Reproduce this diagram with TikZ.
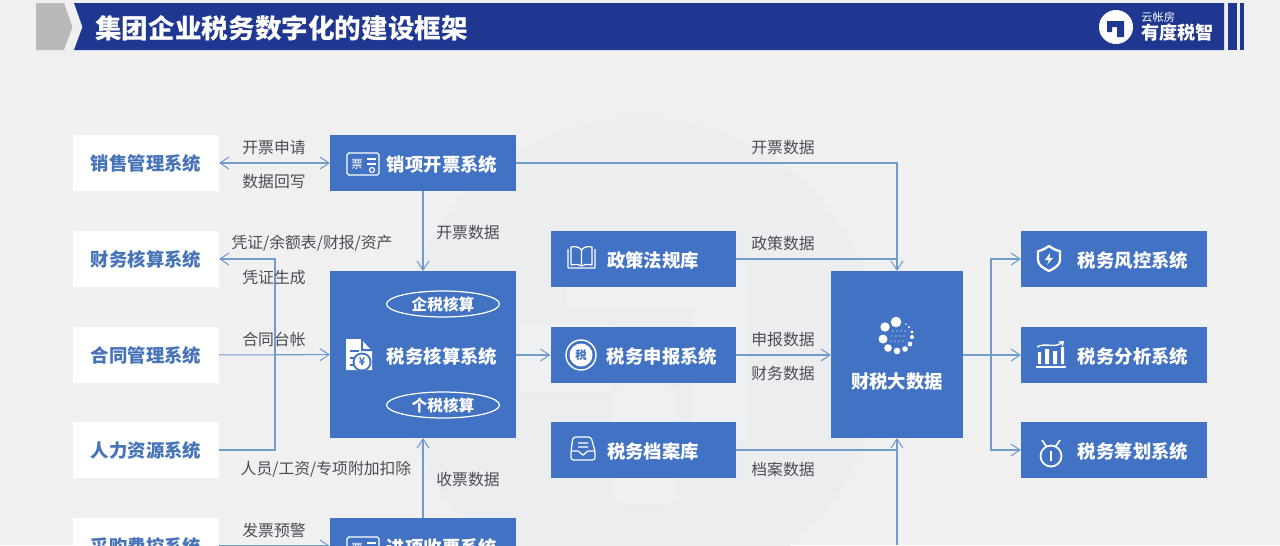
\documentclass[tikz,border=0pt]{standalone}
\usepackage{fontspec}
\setmainfont{Noto Sans CJK SC}
\usepackage{xcolor}
\usetikzlibrary{arrows.meta,positioning,shapes.geometric}
\definecolor{pagebg}{HTML}{F0F0F1}
\definecolor{discbg}{HTML}{ECEDEF}
\definecolor{markbg}{HTML}{EFF0F1}
\definecolor{barblue}{HTML}{1F3790}
\definecolor{boxblue}{HTML}{4172C4}
\definecolor{linkblue}{HTML}{6F9CCB}
\definecolor{namblue}{HTML}{4773B8}
\definecolor{labgray}{HTML}{4B4C55}
\newcommand{\lowname}[1]{\raisebox{-0.9pt}{#1}}
\tikzset{
  whitebox/.style={fill=white,minimum width=2.92cm,minimum height=1.12cm,inner sep=0pt,outer sep=0pt,text=namblue,font=\fontsize{10.45}{12}\selectfont\bfseries},
  bluebox/.style={fill=boxblue,minimum width=3.72cm,minimum height=1.12cm,inner sep=0pt,outer sep=0pt},
  boxtext/.style={text=white,inner sep=0pt,yshift=-0.5pt,font=\fontsize{10.45}{12}\selectfont\bfseries},
  linklab/.style={text=labgray,inner sep=0pt,yshift=-0.2pt,font=\fontsize{9}{10}\selectfont},
  tip/.tip={Straight Barb[length=5.2pt,width=6.8pt,line width=0.6pt]},
  link/.style={draw=linkblue,line width=0.6pt,-tip},
  plainlink/.style={draw=linkblue,line width=0.6pt},
  iconline/.style={draw=white,line width=0.7pt},
  ovaltag/.style={iconline,ellipse,minimum width=2.26cm,minimum height=0.52cm,inner sep=0pt,text=white,font=\fontsize{8.9}{10}\selectfont\bfseries},
}
\begin{document}
\begin{tikzpicture}[x=0.02cm,y=-0.02cm]
\useasboundingbox (0,0) rectangle (1280,545);
\clip (0,0) rectangle (1280,545);
\fill[pagebg] (0,0) rectangle (1280,545);
\fill[discbg] (640,358) circle (240);
\fill[markbg] (567,262) -- (747,262) -- (747,440) -- (693,440) -- (693,308) -- (567,308) -- cycle;
\fill[markbg,rounded corners=8pt] (612,385) -- (678,385) -- (678,505) -- (612,505) -- cycle;
\fill[markbg] (520,325) rectangle (612,393);
\fill[gray!55] (36,3) -- (64,3) -- (72.5,27) -- (64,50) -- (36,50) -- cycle;
\fill[barblue] (74,3) -- (1224,3) -- (1224,50) -- (74,50) -- (82.5,27) -- cycle;
\fill[barblue] (1228,3) rectangle (1237,50);
\fill[barblue] (1240,3) rectangle (1244,50);
\node[text=white,inner sep=0pt,anchor=west,font=\fontsize{15.15}{18}\selectfont\bfseries] (title) at (95,28) {集团企业税务数字化的建设框架};
\fill[white] (1116,27) circle (17);
\fill[barblue] (1107,21) -- (1124,21) -- (1124,37) -- (1117,37) -- (1117,27) -- (1112,27) -- (1112,32) -- (1107,32) -- cycle;
\node[text=white,inner sep=0pt,anchor=west,font=\fontsize{6.4}{7}\selectfont] (yunzhang) at (1141,17) {云帐房};
\node[text=white,inner sep=0pt,anchor=west,font=\fontsize{10.3}{11}\selectfont\bfseries] (youdu) at (1141,33) {有度税智};

\node[whitebox] (xiaoshou) at (146,163) {\lowname{销售管理系统}};
\node[whitebox] (caiwu) at (146,259) {\lowname{财务核算系统}};
\node[whitebox] (hetong) at (146,355) {\lowname{合同管理系统}};
\node[whitebox] (renli) at (146,450) {\lowname{人力资源系统}};
\node[whitebox] (caigou) at (146,546) {\lowname{采购费控系统}};

\node[bluebox] (xiaoxiang) at (423,163) {};
\node[bluebox,minimum height=3.34cm] (hesuan) at (423,354.5) {};
\node[bluebox] (jinxiang) at (423,546) {};
\node[bluebox] (zhengce) at (643.5,259) {};
\node[bluebox] (shenbao) at (643.5,355) {};
\node[bluebox] (dangan) at (643.5,450) {};
\node[bluebox,minimum width=2.64cm,minimum height=3.34cm] (dashuju) at (897,354.5) {};
\node[bluebox] (fengkong) at (1114,259) {};
\node[bluebox] (fenxi) at (1114,355) {};
\node[bluebox] (chouhua) at (1114,450) {};

\node[boxtext] (xiaoxiangt) at (442,164) {销项开票系统};
\node[boxtext] (hesuant) at (442,356) {税务核算系统};
\node[boxtext] (jinxiangt) at (442,547) {进项收票系统};
\node[boxtext] (zhengcet) at (653,260) {政策法规库};
\node[boxtext] (shenbaot) at (662,356) {税务申报系统};
\node[boxtext] (dangant) at (653,451) {税务档案库};
\node[boxtext] (dashujut) at (897,381) {财税大数据};
\node[boxtext] (fengkongt) at (1133,260) {税务风控系统};
\node[boxtext] (fenxit) at (1133,356) {税务分析系统};
\node[boxtext] (chouhuat) at (1133,451) {税务筹划系统};

\node[ovaltag] (qishui) at (443,304) {企税核算};
\node[ovaltag] (geshui) at (443,405) {个税核算};

\coordinate (bus) at (275,259);
\coordinate (topjoin) at (897,259);
\coordinate (bottomjoin) at (897,450);
\coordinate (bottomin) at (897,545);
\coordinate (fork) at (991,355);

\draw[link,tip-tip] (xiaoshou) -- (xiaoxiang);
\draw[link] (xiaoxiang) -- (hesuan);
\draw[link] (jinxiang) -- (hesuan);
\draw[link] (renli.east) -| (bus) -- (caiwu.east);
\draw[link] (hetong) -- (hesuan);
\draw[link] (caigou) -- (jinxiang);
\draw[link] (hesuan.east|-shenbao) -- (shenbao);
\draw[link] (shenbao) -- (dashuju.west|-shenbao);
\draw[link] (xiaoxiang.east) -| (dashuju.north);
\draw[plainlink] (zhengce.east) -- (topjoin);
\draw[plainlink] (dangan.east) -- (bottomjoin);
\draw[link] (bottomin) -- (dashuju.south);
\draw[link] (dashuju.east|-fenxi) -- (fenxi);
\draw[link] (fork) |- (fengkong.west);
\draw[link] (fork) |- (chouhua.west);

\node[linklab] (lab1) at (274,147) {开票申请};
\node[linklab] (lab2) at (274,181) {数据回写};
\node[linklab] (lab3) at (468,232) {开票数据};
\node[linklab] (lab4) at (783,147) {开票数据};
\node[linklab] (lab5) at (312,243) {凭证/余额表/财报/资产};
\node[linklab] (lab6) at (274,277) {凭证生成};
\node[linklab] (lab7) at (274,339) {合同台帐};
\node[linklab] (lab8) at (326,469) {人员/工资/专项附加扣除};
\node[linklab] (lab9) at (468,479) {收票数据};
\node[linklab] (lab10) at (274,530) {发票预警};
\node[linklab] (lab11) at (783,243) {政策数据};
\node[linklab] (lab12) at (783,339) {申报数据};
\node[linklab] (lab13) at (783,373) {财务数据};
\node[linklab] (lab14) at (783,469) {档案数据};

\draw[iconline,rounded corners=1pt] (347,153) rectangle (379,175);
\node[text=white,inner sep=0pt,font=\fontsize{6.5}{7}\selectfont] (piao1) at (357,164) {票};
\draw[iconline] (367,159) -- (376,159) (367,164) -- (376,164);
\draw[iconline] (372,170) circle (2.5);
\draw[iconline,rounded corners=1pt] (347,537) rectangle (379,560);
\node[text=white,inner sep=0pt,font=\fontsize{6.5}{7}\selectfont] (piao2) at (357,548) {票};
\draw[iconline] (367,543) -- (376,543);

\fill[white] (346,339) -- (361,339) -- (372,351) -- (372,370) -- (346,370) -- cycle;
\fill[boxblue] (361,339) -- (361,351) -- (372,351) -- (372,349) -- (363,349) -- (363,339) -- cycle;
\draw[boxblue,line width=0.8pt] (350,351) -- (359,351) (350,358) -- (355,358) (350,365) -- (355,365);
\fill[boxblue] (362,362) circle (9.5);
\fill[white] (362,362) circle (7.5);
\node[text=boxblue,inner sep=0pt,font=\fontsize{6}{7}\selectfont\bfseries] (yuan) at (362,362) {¥};

\draw[iconline,line join=round] (568,268) -- (568,249) (595,249) -- (595,268) -- (568,268) (571,265) -- (571,247) .. controls (576,246) and (579,247) .. (581.5,250) .. controls (584,247) and (587,246) .. (592,247) -- (592,265) .. controls (587,264) and (584,264) .. (581.5,266) .. controls (579,264) and (576,264) .. (571,265) (581.5,250) -- (581.5,266);

\draw[white,line width=0.8pt] (581,355) circle (15);
\fill[white] (581,355) circle (11.5);
\node[text=boxblue,inner sep=0pt,font=\fontsize{6.5}{7}\selectfont\bfseries] (shui) at (581,355) {税};

\draw[iconline,rounded corners=1.5pt] (573,437) -- (591,437) -- (595,451) -- (595,460) -- (571,460) -- (571,451) -- cycle;
\draw[iconline] (571,451) -- (578,451) -- (583,455) -- (588,451) -- (595,451) (578,443) -- (588,443) (578,447) -- (588,447);

\fill[white] (896,322) circle (5.3) (885,327) circle (4.7) (883,339) circle (4.5) (888,348) circle (3.8) (897,351) circle (3.3) (905,349) circle (2.8) (910,344) circle (2.4) (912,337) circle (2) (912,332) circle (1.6) (909,327) circle (1.2) (906,324) circle (.9);
\foreach \dotx in {893,897,901,905}
  \fill[white] (\dotx,331) circle (.6) (\dotx-1,336) circle (.6) (\dotx-2,341) circle (.6);

\draw[iconline,line width=1.3pt,line join=round] (1049,246) .. controls (1043,250) and (1040,251) .. (1038,251) -- (1038,260) .. controls (1038,265) and (1043,268) .. (1049,271) .. controls (1055,268) and (1060,265) .. (1060,260) -- (1060,251) .. controls (1058,251) and (1055,250) .. (1049,246) -- cycle;
\fill[white] (1050,253) -- (1045,260) -- (1049,260) -- (1047,265) -- (1053,258) -- (1049.5,258) -- cycle;

\draw[white,line width=0.8pt] (1036,367) -- (1066,367);
\fill[white] (1038,352) rectangle (1041,364) (1045,349) rectangle (1049,364) (1053,351) rectangle (1057,364) (1061,347) rectangle (1064,364);
\draw[iconline,line width=0.8pt,-{Straight Barb[length=2pt,width=3pt]}] (1037,347) .. controls (1045,342) and (1055,349) .. (1064,341);

\draw[white,line width=1pt] (1051,456) circle (10.5);
\draw[white,line width=1pt] (1051,451) -- (1051,461);
\draw[white,line width=1pt] (1042,440) -- (1046,446) (1060,440) -- (1056,446);
\end{tikzpicture}
\end{document}
